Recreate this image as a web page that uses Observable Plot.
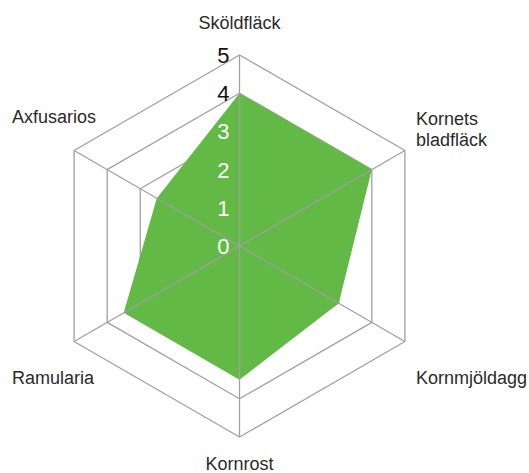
<!DOCTYPE html>
<html>
<head>
<meta charset="utf-8">
<script src="https://cdn.jsdelivr.net/npm/d3@7"></script>
<script src="https://cdn.jsdelivr.net/npm/@observablehq/plot@0.6"></script>
<style>
  html, body { margin: 0; padding: 0; background: #fff; }
  #chart svg { display: block; }
</style>
</head>
<body>
<div id="chart"></div>
<script>
// ---- data ----
const categories = ["Sköldfläck", "Kornets\nbladfläck", "Kornmjöldagg", "Kornrost", "Ramularia", "Axfusarios"];
const values = [4, 4, 3, 3.5, 3.5, 2.5];
const levels = [1, 2, 3, 4, 5];
const tickLabels = [0, 1, 2, 3, 4, 5];

// ---- layout (pixel offsets of category labels from outer vertices) ----
const labelLayout = [
  {dx: 0,   dy: -33, anchor: "middle"},
  {dx: 11,  dy: -22, anchor: "start"},
  {dx: 11,  dy: 36,  anchor: "start"},
  {dx: 0,   dy: 26,  anchor: "middle"},
  {dx: -62, dy: 36,  anchor: "start"},
  {dx: -62, dy: -34, anchor: "start"}
];

const n = categories.length;
const ang = i => (i * 2 * Math.PI) / n;
const px = (i, r) => r * Math.sin(ang(i));
const py = (i, r) => r * Math.cos(ang(i));

const gridPts = levels.flatMap(l => d3.range(n).map(i => ({level: l, x: px(i, l), y: py(i, l)})));
const dataPts = values.map((v, i) => ({x: px(i, v), y: py(i, v)}));
const spokes = d3.range(n).map(i => ({x2: px(i, 5), y2: py(i, 5)}));

const unit = 38.2, cx = 239, cy = 245.5, W = 529, H = 473;

const labelMarks = categories.map((c, i) => Plot.text([c], {
  x: () => px(i, 5), y: () => py(i, 5), text: d => d,
  dx: labelLayout[i].dx, dy: labelLayout[i].dy, textAnchor: labelLayout[i].anchor,
  fill: "#2a2a2a", fontSize: 18, lineHeight: 1.2
}));

const chart = Plot.plot({
  width: W, height: H,
  margin: 0,
  x: {domain: [-cx / unit, (W - cx) / unit], range: [0, W], axis: null},
  y: {domain: [-(H - cy) / unit, cy / unit], range: [H, 0], axis: null},
  style: {fontFamily: "'Liberation Sans', Arial, sans-serif", background: "#fff"},
  marks: [
    Plot.line(gridPts, {x: "x", y: "y", z: "level", curve: "linear-closed", stroke: "#a0a0a0", strokeWidth: 1.3}),
    Plot.line(dataPts, {x: "x", y: "y", curve: "linear-closed", fill: "#62b946", stroke: "none"}),
    Plot.link(spokes, {x1: 0, y1: 0, x2: "x2", y2: "y2", stroke: "#a0a0a0", strokeWidth: 1.3}),
    Plot.text(tickLabels, {x: 0, y: d => d, text: d => String(d), textAnchor: "end", dx: -10, dy: 1,
      fill: d => (d <= 3 ? "#fff" : "#111"), fontSize: 22}),
    ...labelMarks
  ]
});
document.getElementById("chart").appendChild(chart);
</script>
</body>
</html>
